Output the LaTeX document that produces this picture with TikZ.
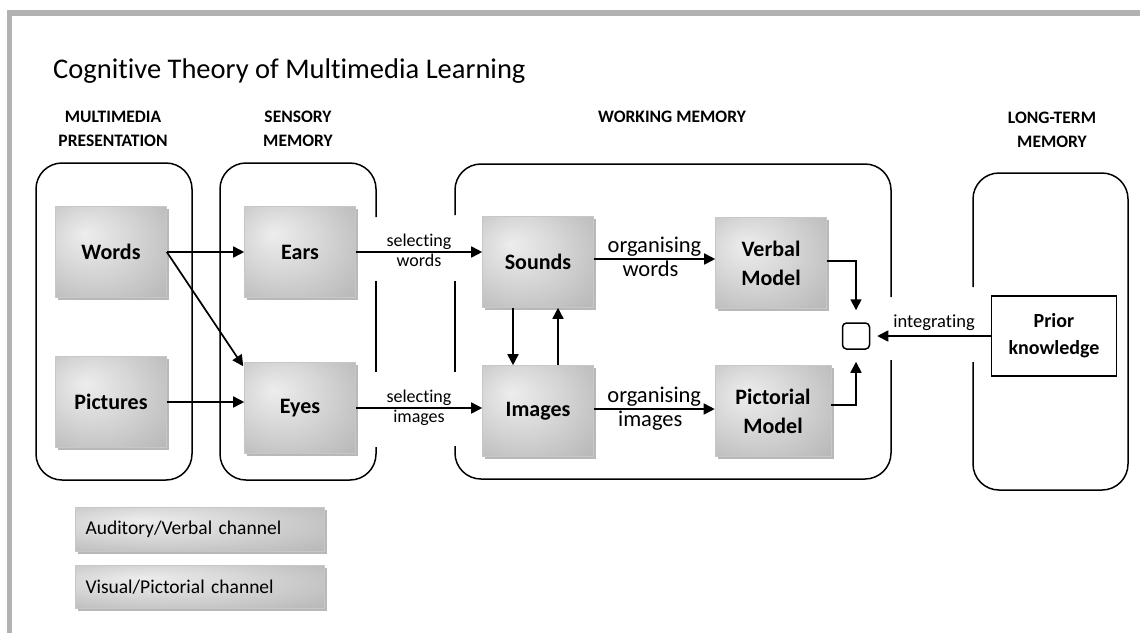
\documentclass[tikz,border=0pt]{standalone}
\usepackage{fontspec}
\setmainfont{Carlito}[Ligatures={NoCommon}]
\usetikzlibrary{arrows.meta,shadows,calc}
\pgfdeclareradialshading{boxshade}{\pgfpoint{-12bp}{10bp}}{color(0bp)=(white!93!black); color(18bp)=(white!84!black); color(40bp)=(white!72!black); color(60bp)=(white!64!black)}
\tikzset{
  gbox/.style={rectangle, shading=boxshade, draw=black!22, line width=0.6pt,
    minimum width=111pt, minimum height=91pt, align=center, inner sep=2pt,
    font=\fontsize{22}{29}\selectfont\bfseries,
    drop shadow={shadow xshift=2.5pt, shadow yshift=-2.5pt, fill=black!28, opacity=1}},
  legbox/.style={gbox, minimum width=249pt, minimum height=44pt, text width=229pt, align=left,
    font=\fontsize{19.5}{22}\selectfont},
  cont/.style={draw, line width=1.5pt, rounded corners=26pt},
  arr/.style={draw, line width=1.7pt, -{Triangle[length=11pt,width=11pt]}},
  lbl/.style={font=\fontsize{18}{20}\selectfont, inner sep=1.5pt},
  olbl/.style={font=\fontsize{22.5}{24}\selectfont, inner sep=1.5pt},
  head/.style={font=\fontsize{17.5}{24}\selectfont\bfseries, align=center},
}
\begin{document}
\begin{tikzpicture}[x=1pt,y=-1pt]
\useasboundingbox (0,0) rectangle (1140,633);
% outer gray frame
\fill[black!30] (7,10) rectangle (1140,16);
\fill[black!30] (7,10) rectangle (12,633);
% title
\node[anchor=base west, font=\fontsize{28.5}{32}\selectfont, inner sep=0] (title) at (53,78) {Cognitive Theory of Multimedia Learning};
% headings
\node[head] (h1) at (113,129) {MULTIMEDIA\\PRESENTATION};
\node[head] (h2) at (298,129) {SENSORY\\MEMORY};
\node[head] (h3) at (672,117) {WORKING MEMORY};
\node[head] (h4) at (1052,130) {LONG-TERM\\MEMORY};
% containers
\draw[cont] (36,163) rectangle (192,480);
\draw[cont] (376,217) -- (376,163) -- (220,163) -- (220,480) -- (376,480) -- (376,447);
\draw[line width=1.5pt] (376,281) -- (376,372);
\draw[cont] (455,215) -- (455,164) -- (891,164) -- (891,297);
\draw[cont] (891,360) -- (891,479) -- (455,479) -- (455,446);
\draw[line width=1.5pt] (455,281) -- (455,372);
\draw[cont] (973,287) -- (973,173) -- (1128,173) -- (1128,490) -- (973,490) -- (973,362);
% boxes
\node[gbox] (words) at (111,252) {Words};
\node[gbox] (pictures) at (111,402) {Pictures};
\node[gbox] (ears) at (300,252) {Ears};
\node[gbox] (eyes) at (300,408) {Eyes};
\node[gbox] (sounds) at (538,262) {Sounds};
\node[gbox] (images) at (538,411) {Images};
\node[gbox] (verbal) at (771,263) {Verbal\\Model};
\node[gbox, minimum width=116pt] (pictorial) at (773,411) {Pictorial\\Model};
\node[draw, line width=1.5pt, rounded corners=4pt, minimum width=27pt, minimum height=26pt, inner sep=0] (sq) at (856,336) {};
\node[draw, line width=1.5pt, minimum width=125pt, minimum height=80pt, align=center,
  font=\fontsize{20}{27}\selectfont\bfseries] (prior) at (1054,336) {Prior\\knowledge};
% legend
\node[legbox] (leg1) at (200,529) {Auditory/Verbal channel};
\node[legbox, minimum height=43pt] (leg2) at (200,587) {Visual/Pictorial channel};
% arrows
\draw[arr] (words.east) -- (ears.west);
\draw[arr] (words.east) -- ([xshift=-1pt,yshift=-4pt]eyes.north west);
\draw[arr] (pictures.east) -- (pictures.east -| eyes.west);
\draw[arr] (ears.east) -- (ears.east -| sounds.west)
  node[lbl, midway, above] (sw1) {selecting} node[lbl, midway, below] (sw2) {words};
\draw[arr] (eyes.east) -- (eyes.east -| images.west)
  node[lbl, midway, above] (si1) {selecting} node[lbl, midway, below] (si2) {images};
\draw[arr] ([yshift=3pt]sounds.east) -- ([yshift=3pt]sounds.east -| verbal.west)
  node[olbl, midway, above] (ow1) {organising} node[olbl, midway, below, xshift=-4pt] (ow2) {words};
\draw[arr] ([yshift=2pt]images.east) -- ([yshift=2pt]images.east -| pictorial.west)
  node[olbl, midway, above] (oi1) {organising} node[olbl, midway, below, xshift=-4pt] (oi2) {images};
\draw[arr] ([xshift=-25pt]sounds.south) -- ([xshift=-25pt]images.north);
\draw[arr] ([xshift=20pt]images.north) -- ([xshift=20pt]sounds.south);
\draw[arr, shorten >=12pt] ([yshift=2pt]verbal.east) -| (sq.north);
\draw[arr, shorten >=12pt] ([yshift=6pt]pictorial.east) -| (sq.south);
\draw[arr, shorten >=7pt] (prior.west) -- (sq.east)
  node[lbl, pos=0.47, above=3pt, font=\fontsize{18.5}{20}\selectfont] (integ) {integrating};
\end{tikzpicture}
\end{document}
